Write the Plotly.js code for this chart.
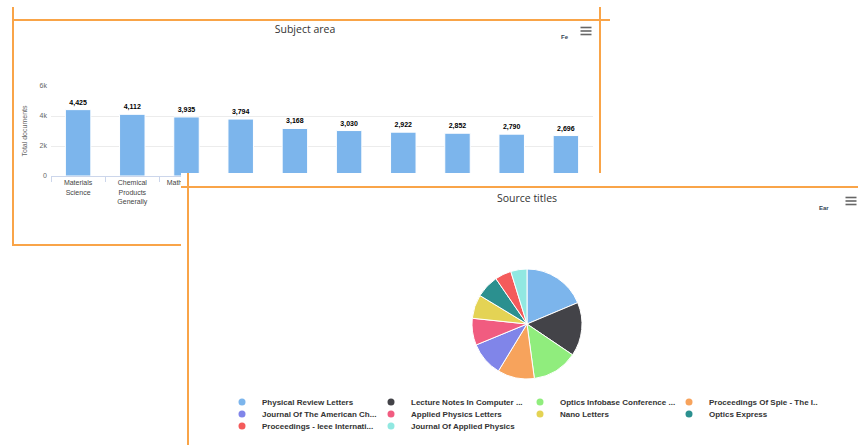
<!DOCTYPE html>
<html>
<head>
<meta charset="utf-8">
<script src="https://cdn.plot.ly/plotly-3.0.1.min.js"></script>
<style>
  body { margin: 0; background: #fff; overflow: hidden; }
  #wrap { position: relative; width: 858px; height: 445px; background: #fff; }
  #c1 { position: absolute; left: 0; top: 0; width: 858px; height: 445px; }
  #c2 { position: absolute; left: 181px; top: 173px; width: 677px; height: 272px; background: #fff; }
  .ln { position: absolute; background: #f9a448; }
</style>
</head>
<body>
<div id="wrap">
  <div id="c1"></div>
  <div class="ln" style="left:12px;top:7px;width:1.5px;height:238px"></div>
  <div class="ln" style="left:12px;top:19px;width:598px;height:1.5px"></div>
  <div class="ln" style="left:599px;top:7px;width:1.5px;height:238px"></div>
  <div class="ln" style="left:12px;top:244px;width:598px;height:1.5px"></div>
  <div id="c2"></div>
  <div class="ln" style="left:181px;top:186px;width:677px;height:1.5px"></div>
  <div class="ln" style="left:187px;top:173px;width:1.5px;height:272px"></div>
</div>
<script>
// ---- Subject area (bar chart) ----
var subjectCategories = [
  "Materials<br>Science",
  "Chemical<br>Products<br>Generally",
  "Mathematics",
  "Physics",
  "Chemistry",
  "Engineering",
  "Optics",
  "Nanoscience",
  "Photonics",
  "Electronics"
];
var subjectDocuments = [4425, 4112, 3935, 3794, 3168, 3030, 2922, 2852, 2790, 2696];
var yTickValues = [0, 2000, 4000, 6000];
var yTickLabels = ["0", "2k", "4k", "6k"];

// ---- Source titles (pie chart) ----
var sourceTitles = [
  "Physical Review Letters",
  "Lecture Notes In Computer ...",
  "Optics Infobase Conference ...",
  "Proceedings Of Spie - The I...",
  "Journal Of The American Ch...",
  "Applied Physics Letters",
  "Nano Letters",
  "Optics Express",
  "Proceedings - Ieee Internati...",
  "Journal Of Applied Physics"
];
var sourceDocuments = [620, 525, 445, 360, 335, 262, 232, 225, 160, 158];
var sourceColors = ["#7cb5ec", "#434348", "#90ed7d", "#f7a35c", "#8085e9",
                    "#f15c80", "#e4d354", "#2b908f", "#f45b5b", "#91e8e1"];

var smallFont = "Liberation Sans, Arial, sans-serif";
var titleFont = "Open Sans, DejaVu Sans, sans-serif";

// hamburger menu icon as three short bars (paper coords via converters)
function menuIcon(cx, cy, fx, fy) {
  return [-3.5, 0, 3.5].map(function (d) {
    return {type: "line", xref: "paper", yref: "paper",
            x0: fx(cx - 5.5), x1: fx(cx + 5.5), y0: fy(cy + d), y1: fy(cy + d),
            line: {color: "#666", width: 1.6}};
  });
}

// ---------- chart 1 ----------
var m1 = {l: 51, r: 265, t: 86, b: 269};
var W1 = 858, H1 = 445;
function px1(x) { return (x - m1.l) / (W1 - m1.l - m1.r); }
function py1(y) { return (H1 - m1.b - y) / (H1 - m1.t - m1.b); }

var barTrace = {
  type: "bar",
  x: subjectCategories,
  y: subjectDocuments,
  marker: {color: "#7cb5ec", line: {color: "#ffffff", width: 1}},
  texttemplate: "%{y:,}",
  textposition: "outside",
  outsidetextfont: {family: smallFont, size: 7, color: "#000", weight: "bold"},
  cliponaxis: false,
  hoverinfo: "none"
};

var layout1 = {
  width: W1, height: H1,
  margin: m1,
  paper_bgcolor: "rgba(0,0,0,0)",
  plot_bgcolor: "rgba(0,0,0,0)",
  showlegend: false,
  bargap: 0.53,
  title: {
    text: "Subject area",
    font: {family: titleFont, size: 10.5, color: "#333"},
    xref: "container", x: 305 / W1, xanchor: "center",
    yref: "container", y: 1 - 29 / H1, yanchor: "middle"
  },
  xaxis: {
    type: "category",
    showgrid: false,
    showline: true, linecolor: "#ccd6eb", linewidth: 1,
    ticks: "outside", tickson: "boundaries", ticklen: 5, tickcolor: "#ccd6eb",
    tickfont: {family: smallFont, size: 7, color: "#444"},
    tickangle: 0,
    fixedrange: true
  },
  yaxis: {
    range: [0, 6000],
    tickvals: yTickValues, ticktext: yTickLabels,
    showgrid: true, gridcolor: "#ececec",
    zeroline: false, showline: false,
    ticklabelstandoff: 3,
    tickfont: {family: smallFont, size: 7, color: "#666"},
    title: {text: "Total documents", font: {family: smallFont, size: 7, color: "#666"}, standoff: 11},
    fixedrange: true
  },
  shapes: menuIcon(586, 31, px1, py1),
  annotations: [
    {xref: "paper", yref: "paper", x: px1(571), y: py1(32), text: "<b>Fe</b>", showarrow: false,
     font: {family: smallFont, size: 6, color: "#345"}}
  ]
};

Plotly.newPlot("c1", [barTrace], layout1, {displayModeBar: false, staticPlot: true});

// ---------- chart 2 ----------
var W2 = 677, H2 = 272;
var pieCx = 346, pieCy = 151, pieR = 55;
function px2(x) { return x / W2; }
function py2(y) { return 1 - y / H2; }

var pieTrace = {
  type: "pie",
  labels: sourceTitles,
  values: sourceDocuments,
  marker: {colors: sourceColors, line: {color: "#ffffff", width: 1}},
  sort: false,
  direction: "clockwise",
  rotation: 0,
  textinfo: "none",
  hoverinfo: "none",
  showlegend: false,
  domain: {
    x: [(pieCx - pieR) / W2, (pieCx + pieR) / W2],
    y: [(H2 - pieCy - pieR) / H2, (H2 - pieCy + pieR) / H2]
  }
};

var legendTraces = sourceTitles.map(function (name, i) {
  var row = Math.floor(i / 4);
  return {
    type: "scatter", mode: "markers",
    x: [null], y: [null],
    name: name,
    marker: {color: sourceColors[i], size: 7, symbol: "circle"},
    legend: row === 0 ? "legend" : ("legend" + (row + 1)),
    hoverinfo: "none"
  };
});

var rowY = [229, 241, 253];
function legendRow(py) {
  return {
    orientation: "h",
    x: 41 / W2, xanchor: "left",
    y: py2(py), yanchor: "middle",
    font: {family: smallFont, size: 8, color: "#333", weight: "bold"},
    entrywidth: 104, entrywidthmode: "pixels",
    itemwidth: 30,
    bgcolor: "rgba(0,0,0,0)", borderwidth: 0,
    tracegroupgap: 0
  };
}

var layout2 = {
  width: W2, height: H2,
  margin: {l: 0, r: 0, t: 0, b: 0},
  paper_bgcolor: "#ffffff",
  plot_bgcolor: "rgba(0,0,0,0)",
  showlegend: true,
  xaxis: {visible: false, fixedrange: true},
  yaxis: {visible: false, fixedrange: true},
  title: {
    text: "Source titles",
    font: {family: titleFont, size: 10.5, color: "#333"},
    xref: "container", x: pieCx / W2, xanchor: "center",
    yref: "container", y: 1 - 25 / H2, yanchor: "middle"
  },
  legend: legendRow(rowY[0]),
  legend2: legendRow(rowY[1]),
  legend3: legendRow(rowY[2]),
  shapes: menuIcon(670, 28, px2, py2),
  annotations: [
    {xref: "paper", yref: "paper", x: px2(650), y: py2(30), text: "<b>Ear</b>", showarrow: false,
     font: {family: smallFont, size: 6, color: "#345"}}
  ]
};

Plotly.newPlot("c2", [pieTrace].concat(legendTraces), layout2, {displayModeBar: false, staticPlot: true});
</script>
</body>
</html>
